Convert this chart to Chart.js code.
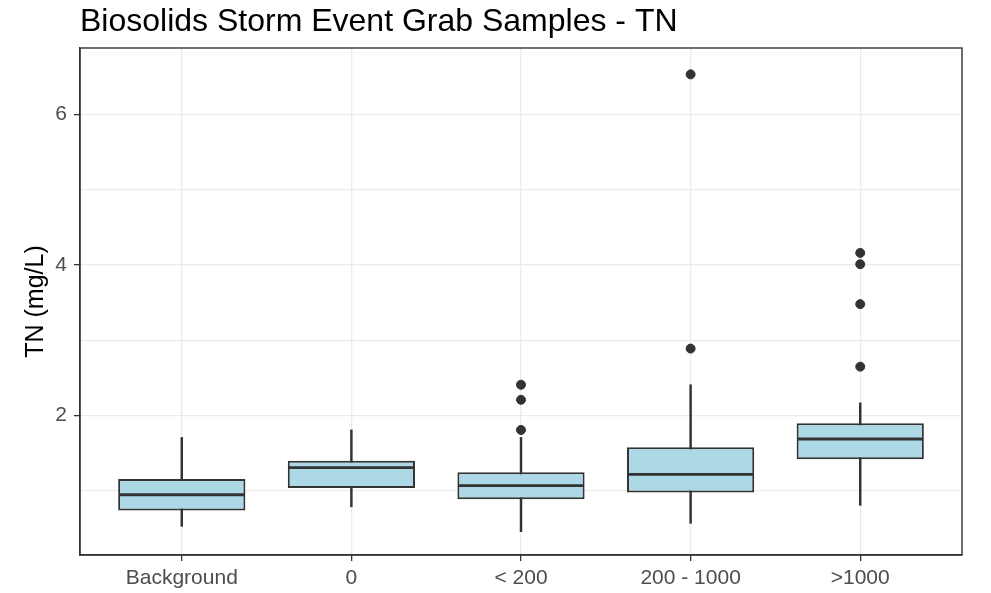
<!DOCTYPE html>
<html>
<head>
<meta charset="utf-8">
<script src="https://cdn.jsdelivr.net/npm/chart.js@4.4.0/dist/chart.umd.min.js"></script>
<style>
  html, body { margin: 0; padding: 0; background: #fff; }
  #wrap { width: 991px; height: 593px; }
</style>
</head>
<body>
<div id="wrap"><canvas id="boxChart"></canvas></div>
<script>
"use strict";

const title = "Biosolids Storm Event Grab Samples - TN";
const categories = ["Background", "0", "< 200", "200 - 1000", ">1000"];

// box stats
const whiskerLow = [0.53, 0.79, 0.46, 0.57, 0.81];
const q1 = [0.74, 1.04, 0.89, 0.98, 1.42];
const median = [0.95, 1.31, 1.07, 1.22, 1.69];
const q3 = [1.16, 1.40, 1.25, 1.58, 1.90];
const whiskerHigh = [1.71, 1.81, 1.71, 2.41, 2.17];

// outliers: category index + value
const outlierCat = [2, 2, 2, 3, 3, 4, 4, 4, 4];
const outlierVal = [2.41, 2.21, 1.81, 6.53, 2.89, 4.16, 4.01, 3.48, 2.65];

const yTicks = [1, 2, 3, 4, 5, 6];
const yLabels = ["", "2", "", "4", "", "6"];

const font = '"Liberation Sans", Arial, sans-serif';

const boxExtras = {
  id: "boxExtras",
  afterDatasetsDraw(chart) {
    const ctx = chart.ctx;
    const y = chart.scales.y;
    const meta = chart.getDatasetMeta(1);
    ctx.save();
    ctx.strokeStyle = "#333333";
    ctx.lineWidth = 2.8;
    meta.data.forEach((bar, i) => {
      const py = y.getPixelForValue(median[i]);
      ctx.beginPath();
      ctx.moveTo(bar.x - bar.width / 2 + 1, py);
      ctx.lineTo(bar.x + bar.width / 2 - 1, py);
      ctx.stroke();
    });
    // panel border
    const a = chart.chartArea;
    ctx.lineWidth = 1.4;
    ctx.strokeRect(a.left, a.top, a.width, a.height);
    ctx.restore();
  },
  afterDraw(chart) {
    const ctx = chart.ctx;
    ctx.save();
    ctx.font = "32px " + font;
    ctx.fillStyle = "#000";
    ctx.textBaseline = "alphabetic";
    ctx.fillText(title, chart.chartArea.left, 31);
    ctx.restore();
  },
};

const ctxBox = document.getElementById("boxChart");

new Chart(ctxBox, {
  type: "bar",
  data: {
    datasets: [
      {
        type: "scatter",
        label: "outliers",
        data: outlierVal.map((v, i) => ({ x: outlierCat[i], y: v })),
        backgroundColor: "#333333",
        borderColor: "#333333",
        pointRadius: 4.5,
        order: 1,
      },
      {
        label: "box",
        data: categories.map((c, i) => ({ x: i, y: [q1[i], q3[i]] })),
        backgroundColor: "#ADD8E6",
        borderColor: "#333333",
        borderWidth: 2,
        borderSkipped: false,
        categoryPercentage: 0.75,
        barPercentage: 1,
        grouped: false,
        order: 2,
      },
      {
        label: "whisker",
        data: categories.map((c, i) => ({ x: i, y: [whiskerLow[i], whiskerHigh[i]] })),
        backgroundColor: "#333333",
        barThickness: 1.8,
        grouped: false,
        order: 3,
      },
    ],
  },
  options: {
    responsive: true,
    maintainAspectRatio: false,
    animation: false,
    layout: {
      padding: { top: 48, right: 29, bottom: 0, left: 0 },
    },
    plugins: {
      legend: { display: false },
      tooltip: { enabled: false },
    },
    scales: {
      x: {
        type: "linear",
        min: -0.6,
        max: 4.6,
        offset: false,
        afterBuildTicks: (scale) => {
          scale.ticks = categories.map((c, i) => ({ value: i }));
        },
        afterFit: (scale) => {
          scale.height = 38;
        },
        ticks: {
          callback: (v) => categories[v],
          color: "#4d4d4d",
          font: { family: font, size: 21 },
          padding: 5,
          maxRotation: 0,
          autoSkip: false,
        },
        grid: {
          offset: false,
          color: "#ebebeb",
          lineWidth: 1.3,
          tickLength: 6,
          tickColor: "#333333",
        },
        border: { display: true, color: "#333333", width: 1.4 },
      },
      y: {
        min: 0.15,
        max: 6.88,
        afterBuildTicks: (scale) => {
          scale.ticks = yTicks.map((v) => ({ value: v }));
        },
        afterFit: (scale) => {
          scale.width = 80;
        },
        ticks: {
          callback: (v, i) => yLabels[i],
          color: "#4d4d4d",
          font: { family: font, size: 21 },
          padding: 7,
        },
        grid: {
          color: "#ebebeb",
          lineWidth: 1.3,
          tickLength: 6,
          tickColor: (c) => (c.tick && c.tick.value % 2 === 0 ? "#333333" : "rgba(0,0,0,0)"),
        },
        border: { display: true, color: "#333333", width: 1.4 },
        title: {
          display: true,
          text: "TN (mg/L)",
          color: "#000",
          font: { family: font, size: 25 },
          padding: { top: 21, bottom: 0 },
        },
      },
    },
  },
  plugins: [boxExtras],
});
</script>
</body>
</html>
